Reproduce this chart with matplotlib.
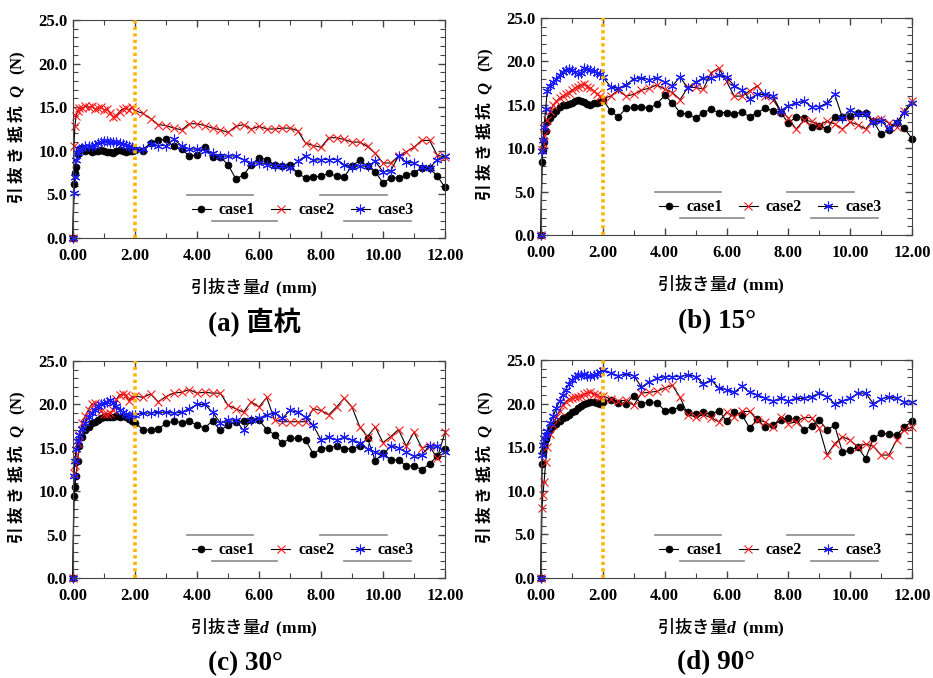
import matplotlib.pyplot as plt
from matplotlib.ticker import MultipleLocator, FormatStrFormatter

plt.rcParams['font.family'] = ['Liberation Serif', 'Noto Sans CJK JP']
plt.rcParams['font.weight'] = 'bold'
plt.rcParams['mathtext.fontset'] = 'custom'
plt.rcParams['mathtext.it'] = 'Liberation Serif:italic:bold'
plt.rcParams['mathtext.bf'] = 'Liberation Serif:bold'

# pull-out displacement d (mm): dense readings up to 2 mm, then every 0.25 mm
D_DENSE = [0.00, 0.03, 0.06, 0.10, 0.15, 0.20, 0.30, 0.40, 0.50, 0.60, 0.70, 0.80,
           0.90, 1.00, 1.10, 1.20, 1.30, 1.40, 1.50, 1.60, 1.70, 1.80, 1.90, 2.00]
D_SPARSE = [2.25, 2.50, 2.75, 3.00, 3.25, 3.50, 3.75, 4.00, 4.25, 4.50,
            4.75, 5.00, 5.25, 5.50, 5.75, 6.00, 6.25, 6.50, 6.75, 7.00,
            7.25, 7.50, 7.75, 8.00, 8.25, 8.50, 8.75, 9.00, 9.25, 9.50,
            9.75, 10.00, 10.25, 10.50, 10.75, 11.00, 11.25, 11.50, 11.75, 12.00]
D = D_DENSE + D_SPARSE

# pull-out resistance Q (N)
# (a) straight pile
A_CASE1 = [0, 6.2, 7.5, 8.1, 9.6, 10.2, 10.3, 10.0, 10.1, 9.9, 10.0, 10.0,
           10.1, 10.0, 9.9, 9.9, 9.8, 10.0, 10.1, 10.0, 9.9, 10.0, 10.0, 10.1,
           10.0, 10.9, 11.2, 11.3, 10.5, 10.2, 9.4, 9.5, 10.4, 9.3,
           9.3, 8.4, 6.8, 7.2, 8.4, 9.2, 9.0, 8.4, 8.3, 8.4,
           7.4, 6.9, 7.0, 7.1, 7.4, 7.1, 7.0, 8.3, 8.9, 8.2,
           7.6, 6.3, 6.9, 6.9, 7.2, 7.5, 8.0, 8.0, 7.1, 5.8]
A_CASE2 = [0, 10.5, 12.8, 14.0, 14.6, 14.9, 14.9, 15.1, 15.0, 15.1, 14.8, 14.9,
           15.0, 14.7, 14.8, 14.3, 13.9, 14.0, 14.5, 14.8, 14.9, 14.7, 15.0, 14.6,
           14.3, 13.7, 13.0, 12.9, 12.6, 12.4, 13.1, 13.1, 12.9, 12.6,
           12.4, 12.1, 12.8, 13.0, 12.5, 12.8, 12.5, 12.5, 12.6, 12.6,
           12.3, 10.9, 10.6, 10.4, 11.5, 11.5, 11.3, 11.0, 11.0, 10.5,
           9.7, 8.6, 8.6, 9.4, 9.9, 10.4, 11.2, 11.2, 9.5, 9.3]
A_CASE3 = [0, 5.2, 7.0, 9.0, 9.7, 10.2, 10.3, 10.5, 10.6, 10.5, 10.7, 10.9,
           11.0, 11.1, 11.1, 11.0, 11.0, 11.0, 10.9, 10.8, 10.7, 10.5, 10.4, 10.2,
           10.2, 10.8, 10.6, 10.6, 11.3, 10.6, 10.2, 10.2, 10.0, 9.7,
           9.4, 9.4, 9.4, 9.0, 8.6, 8.6, 8.4, 8.3, 8.2, 8.0,
           8.8, 9.4, 8.9, 9.0, 9.0, 9.0, 8.4, 8.1, 8.3, 8.2,
           8.8, 7.6, 7.7, 9.4, 8.7, 8.6, 8.1, 8.0, 9.0, 9.4]
# (b) 15 deg
B_CASE1 = [0, 8.4, 9.8, 10.7, 12.0, 13.0, 13.5, 13.9, 14.3, 14.8, 15.0, 15.0,
           15.1, 15.2, 15.4, 15.5, 15.4, 15.3, 15.1, 15.0, 15.2, 15.2, 15.3, 15.6,
           14.3, 13.6, 14.6, 14.7, 14.8, 14.6, 15.1, 16.1, 15.2, 14.1,
           13.9, 13.5, 14.1, 14.5, 14.1, 14.1, 13.9, 14.2, 13.6, 14.1,
           14.6, 14.3, 14.1, 12.9, 13.6, 13.5, 12.4, 12.6, 12.2, 13.6,
           13.6, 13.7, 14.1, 14.1, 13.1, 11.6, 12.1, 12.9, 12.3, 11.1]
B_CASE2 = [0, 9.8, 10.6, 11.5, 12.5, 13.2, 14.3, 15.0, 15.4, 15.8, 16.0, 16.2,
           16.4, 16.7, 16.9, 17.1, 17.3, 17.4, 17.1, 16.9, 16.6, 16.3, 16.0, 15.7,
           16.0, 16.7, 16.0, 16.2, 16.7, 16.9, 17.3, 16.8, 16.4, 15.6,
           17.0, 17.0, 16.8, 18.7, 19.2, 17.7, 16.0, 16.0, 16.6, 17.2,
           16.0, 15.6, 14.3, 13.5, 12.2, 13.2, 13.1, 12.7, 13.1, 12.8,
           12.2, 13.0, 12.7, 12.2, 13.3, 13.4, 12.9, 12.5, 14.3, 15.4]
B_CASE3 = [0, 9.7, 10.9, 12.5, 14.5, 16.6, 17.2, 17.6, 18.0, 18.4, 18.8, 19.0,
           19.1, 19.0, 18.8, 18.5, 18.7, 19.2, 19.1, 19.0, 18.9, 18.7, 18.5, 18.2,
           17.1, 16.9, 17.3, 18.0, 18.1, 17.9, 18.1, 17.6, 17.2, 18.2,
           16.9, 17.6, 18.1, 18.1, 18.4, 18.2, 17.2, 16.7, 15.7, 16.2,
           16.2, 16.0, 14.3, 14.9, 15.2, 15.4, 14.8, 14.8, 15.2, 16.2,
           13.5, 14.4, 13.9, 13.9, 13.0, 13.1, 12.3, 13.0, 14.1, 15.2]
# (c) 30 deg
C_CASE1 = [0, 9.5, 10.5, 11.8, 13.5, 15.2, 16.2, 17.0, 17.4, 17.8, 18.0, 18.2,
           18.4, 18.5, 18.5, 18.6, 18.6, 18.7, 18.6, 18.7, 18.5, 18.3, 18.1, 17.9,
           17.1, 17.0, 17.2, 17.8, 18.1, 17.9, 18.1, 17.6, 17.3, 18.1,
           17.0, 17.6, 18.0, 18.1, 18.2, 18.2, 17.1, 16.5, 15.5, 16.1,
           16.1, 15.9, 14.3, 14.9, 15.0, 15.2, 14.9, 14.9, 15.2, 16.1,
           13.5, 14.4, 13.6, 13.6, 12.9, 12.9, 12.5, 13.1, 14.1, 14.9]
C_CASE2 = [0, 12.1, 13.0, 14.2, 15.5, 16.5, 17.8, 18.7, 19.4, 20.0, 20.2, 19.8,
           19.2, 18.9, 18.9, 19.0, 19.3, 20.6, 21.1, 21.2, 21.1, 20.4, 20.9, 21.0,
           20.8, 21.2, 20.3, 20.9, 21.3, 21.4, 21.7, 21.3, 21.4, 21.3,
           21.3, 19.9, 19.5, 19.1, 20.3, 19.7, 20.8, 18.2, 18.0, 18.0,
           18.0, 18.0, 19.5, 19.3, 18.8, 19.7, 20.7, 19.7, 17.4, 16.3,
           17.4, 15.6, 16.3, 17.1, 15.2, 16.8, 15.0, 15.2, 13.8, 16.8]
C_CASE3 = [0, 11.7, 13.5, 14.9, 15.8, 16.5, 17.2, 17.9, 18.5, 19.0, 19.4, 19.8,
           20.0, 20.2, 20.3, 20.5, 20.2, 19.8, 19.4, 19.1, 18.9, 18.7, 18.8, 18.8,
           19.0, 19.0, 19.1, 19.1, 19.0, 19.1, 19.5, 20.0, 20.0, 19.1,
           17.9, 18.2, 18.2, 17.0, 18.2, 18.4, 18.8, 19.0, 18.4, 19.3,
           19.1, 18.5, 17.6, 15.9, 16.2, 15.9, 16.2, 15.9, 15.6, 14.9,
           14.5, 14.2, 15.2, 15.0, 14.5, 14.0, 14.2, 15.2, 15.2, 14.5]
# (d) 90 deg
D_CASE1 = [0, 13.1, 14.5, 15.2, 15.9, 16.4, 17.0, 17.4, 17.7, 18.0, 18.3, 18.5,
           18.7, 19.0, 19.2, 19.5, 19.7, 19.9, 20.1, 20.2, 20.2, 20.1, 20.0, 20.2,
           20.4, 20.1, 20.0, 20.9, 20.0, 20.2, 20.1, 19.2, 19.3, 19.6,
           19.0, 18.8, 19.0, 18.8, 19.2, 18.0, 19.0, 18.7, 17.2, 18.2,
           17.3, 17.5, 18.1, 18.3, 18.2, 17.0, 17.4, 18.1, 17.0, 17.5,
           14.4, 14.7, 15.0, 13.7, 16.0, 16.6, 16.5, 16.4, 17.3, 18.0]
D_CASE2 = [0, 8.0, 9.5, 11.0, 13.3, 15.0, 16.5, 17.6, 18.5, 19.2, 19.8, 20.2,
           20.5, 20.6, 20.7, 20.8, 20.9, 21.1, 21.2, 21.3, 21.1, 21.0, 20.8, 20.9,
           20.5, 20.3, 20.4, 19.8, 21.2, 21.3, 21.4, 21.8, 22.1, 20.7,
           18.7, 18.5, 18.7, 18.4, 17.9, 19.0, 18.5, 19.1, 19.1, 18.1,
           17.9, 17.3, 18.5, 17.7, 17.9, 18.4, 18.4, 17.2, 14.1, 15.4,
           16.2, 15.8, 15.0, 15.4, 15.1, 14.1, 14.1, 15.8, 17.0, 17.3]
D_CASE3 = [0, 14.1, 15.2, 16.0, 16.4, 16.9, 17.8, 18.6, 19.5, 20.3, 21.0, 21.6,
           22.2, 22.7, 23.0, 23.3, 23.3, 23.4, 23.2, 23.2, 23.3, 23.4, 23.6, 23.9,
           23.5, 23.2, 23.4, 23.2, 21.9, 22.5, 22.9, 23.1, 23.1, 23.1,
           23.3, 23.1, 22.3, 22.7, 21.8, 21.6, 21.3, 22.0, 21.3, 21.0,
           20.6, 20.3, 20.6, 20.3, 20.6, 20.6, 20.8, 21.2, 20.8, 20.0,
           20.3, 20.6, 21.2, 21.2, 20.0, 20.5, 20.8, 20.6, 20.2, 20.2]

CASES = ['case1', 'case2', 'case3']
TITLES = ['(a) 直杭', '(b) 15°', '(c) 30°', '(d) 90°']
PANELS = [(A_CASE1, A_CASE2, A_CASE3), (B_CASE1, B_CASE2, B_CASE3),
          (C_CASE1, C_CASE2, C_CASE3), (D_CASE1, D_CASE2, D_CASE3)]
D_MARK = 2.0

W, H = 933, 678
# axes boxes in pixels: left, top, right, bottom
boxes = [(73, 20, 445, 238), (541, 18, 912, 235),
         (73, 361, 445, 578), (541, 360, 912, 578)]
title_pos = [(254, 322), (717, 322), (245, 664), (716, 663)]

styles = [dict(marker='o', ms=5, mfc='black', mec='black', mew=0.5),
          dict(marker='x', ms=5.5, mfc='none', mec='#ff1a1a', mew=0.8),
          dict(marker=(6, 2, 0), ms=7, mfc='none', mec='#1a1aff', mew=0.8)]

fig = plt.figure(figsize=(W / 100, H / 100), dpi=100)

for i, series in enumerate(PANELS):
    l, t, r, b = boxes[i]
    ax = fig.add_axes([l / W, 1 - b / H, (r - l) / W, (b - t) / H])
    for name, y, st in zip(CASES, series, styles):
        ax.plot(D, y, color='black', lw=0.8, label=name, clip_on=False, **st)
    ax.axvline(D_MARK, color='#ffb400', lw=2.6, linestyle=(0, (0.9, 0.9)), zorder=5)

    ax.set_xlim(0, 12)
    ax.set_ylim(0, 25)
    ax.xaxis.set_major_locator(MultipleLocator(2))
    ax.xaxis.set_minor_locator(MultipleLocator(1))
    ax.yaxis.set_major_locator(MultipleLocator(5))
    ax.yaxis.set_minor_locator(MultipleLocator(1))
    ax.xaxis.set_major_formatter(FormatStrFormatter('%.2f'))
    ax.yaxis.set_major_formatter(FormatStrFormatter('%.1f'))
    ax.tick_params(which='both', direction='in', top=True, right=True,
                   color='#444444', labelsize=12)
    ax.tick_params(which='major', length=5, width=1)
    ax.tick_params(which='minor', length=3.5, width=0.8)
    ax.tick_params(axis='x', pad=7)
    ax.tick_params(axis='y', pad=4)
    for sp in ax.spines.values():
        sp.set_color('#444444')

    ax.set_ylabel('引 抜 き 抵 抗  $Q$   $\\mathbf{(N)}$', fontfamily='Noto Sans CJK JP',
                  fontweight='bold', fontsize=12)
    ax.yaxis.set_label_coords(-0.121, 0.51)
    ax.set_xlabel('引抜き量$d$  $\\mathbf{(mm)}$', fontfamily='Noto Sans CJK JP',
                  fontweight='medium', fontsize=12.5)
    ax.xaxis.set_label_coords(0.485, -0.175)

    ax.legend(loc='center', bbox_to_anchor=(0.618, 0.128), ncol=3, frameon=False,
              handlelength=1.2, handletextpad=0.5, columnspacing=1.0,
              fontsize=11.5, borderpad=0, borderaxespad=0)
    # grey rules around the legend
    for x0, x1, yy in [(0.306, 0.484, 0.197), (0.664, 0.844, 0.197),
                       (0.374, 0.548, 0.078), (0.728, 0.909, 0.078)]:
        ax.plot([x0, x1], [yy, yy], color='#8a8a8a', lw=1.2, transform=ax.transAxes)

    tx, ty = title_pos[i]
    fig.text(tx / W, 1 - ty / H, TITLES[i], ha='center', va='center',
             fontsize=19.5, fontweight='bold')

fig.savefig('out.png', dpi=100)
